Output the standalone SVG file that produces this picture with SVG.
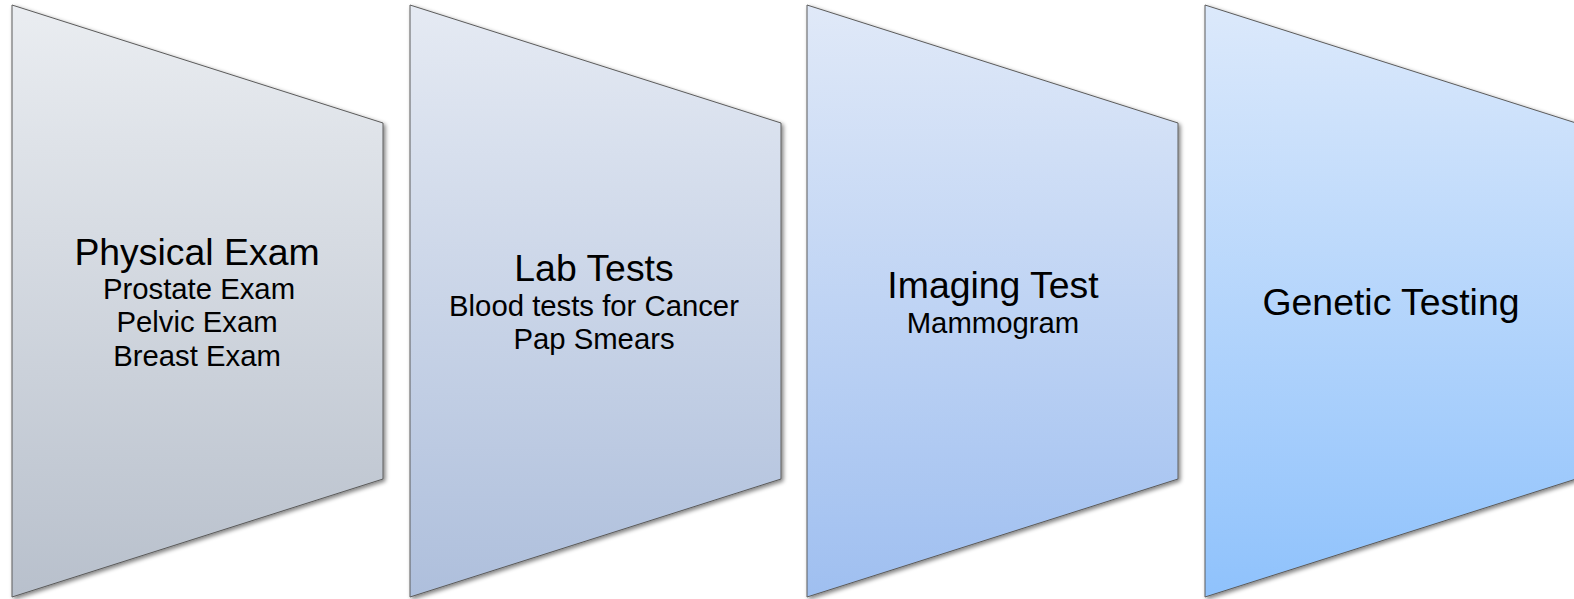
<svg xmlns="http://www.w3.org/2000/svg" width="1574" height="599" viewBox="0 0 1574 599">
  <defs>
    <!-- vertical fills, shifting from grey to blue across the stages -->
    <linearGradient id="g1" x1="0" y1="0" x2="0" y2="1">
      <stop offset="0" stop-color="#eaedf1"/>
      <stop offset="1" stop-color="#b8c0cc"/>
    </linearGradient>
    <linearGradient id="g2" x1="0" y1="0" x2="0" y2="1">
      <stop offset="0" stop-color="#e5eaf3"/>
      <stop offset="1" stop-color="#aebfdc"/>
    </linearGradient>
    <linearGradient id="g3" x1="0" y1="0" x2="0" y2="1">
      <stop offset="0" stop-color="#e0e9f8"/>
      <stop offset="1" stop-color="#9fbff0"/>
    </linearGradient>
    <linearGradient id="g4" x1="0" y1="0" x2="0" y2="1">
      <stop offset="0" stop-color="#dce9fb"/>
      <stop offset="1" stop-color="#8fc2fc"/>
    </linearGradient>
    <filter id="shadow" x="-5%" y="-5%" width="115%" height="115%">
      <feGaussianBlur in="SourceAlpha" stdDeviation="2"/>
      <feOffset dx="2" dy="2" result="b"/>
      <feComponentTransfer><feFuncA type="linear" slope="0.5"/></feComponentTransfer>
      <feMerge><feMergeNode/><feMergeNode in="SourceGraphic"/></feMerge>
    </filter>
  </defs>
  <style>
    .stage { stroke: #5c5c5c; stroke-width: 1; filter: url(#shadow); }
    .title { font-family: "Liberation Sans", Arial, sans-serif; font-size: 37.4px; fill: #000; text-anchor: middle; }
    .sub { font-family: "Liberation Sans", Arial, sans-serif; font-size: 29.3px; fill: #000; text-anchor: middle; }
  </style>

  <g id="physical-exam">
    <polygon class="stage" fill="url(#g1)" points="12,5 383,123 383,479 12,597"/>
    <text class="title" x="197" y="265">Physical Exam</text>
    <text class="sub" x="199" y="299">Prostate Exam</text>
    <text class="sub" x="197" y="332">Pelvic Exam</text>
    <text class="sub" x="197" y="366">Breast Exam</text>
  </g>

  <g id="lab-tests">
    <polygon class="stage" fill="url(#g2)" points="410,5 781,123 781,479 410,597"/>
    <text class="title" x="594" y="281">Lab Tests</text>
    <text class="sub" x="594" y="316">Blood tests for Cancer</text>
    <text class="sub" x="594" y="349">Pap Smears</text>
  </g>

  <g id="imaging-test">
    <polygon class="stage" fill="url(#g3)" points="807,5 1178,123 1178,479 807,597"/>
    <text class="title" x="993" y="298">Imaging Test</text>
    <text class="sub" x="993" y="333">Mammogram</text>
  </g>

  <g id="genetic-testing">
    <polygon class="stage" fill="url(#g4)" points="1205,5 1576,123 1576,479 1205,597"/>
    <text class="title" x="1391" y="315">Genetic Testing</text>
  </g>

  <g id="connectors"/>
</svg>
